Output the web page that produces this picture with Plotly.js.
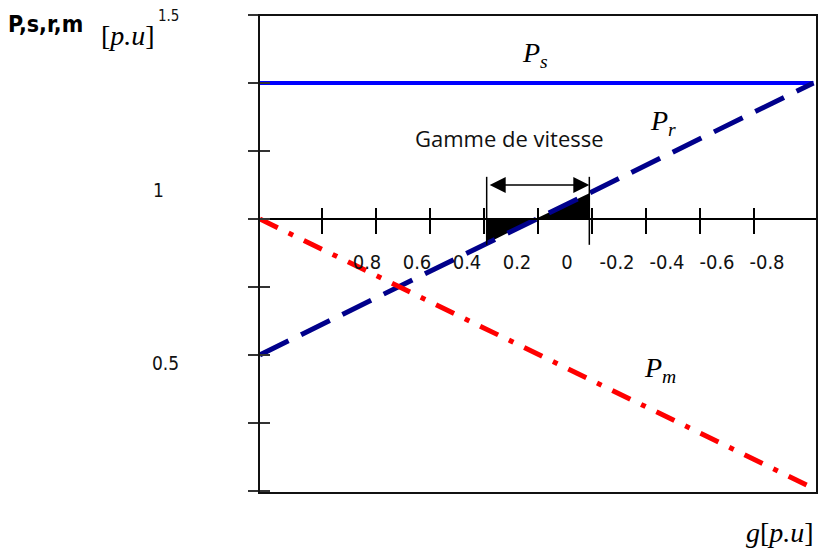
<!DOCTYPE html>
<html>
<head>
<meta charset="utf-8">
<script src="https://cdn.plot.ly/plotly-3.0.1.min.js"></script>
<style>
  html, body { margin: 0; padding: 0; background: #fff; }
  #chart { width: 821px; height: 554px; }
</style>
</head>
<body>
<div id="chart"></div>
<script>
// Slip g [p.u] at both ends of each power line
const slip = [1.03, -1.02];
// Stator, rotor and mechanical power [p.u] at those slips
const powerStator = [1, 1];
const powerRotor = [-1.0, 1.0];
const powerMech = [0, -1.98];

// Speed range: slip limits and rotor power across the band
const bandSlip = [0.19, 0.01, -0.19];
const bandRotor = [-0.18, 0, 0.19];
const bandEdges = [0.19, -0.19];

// Axis ticks and labels
const slipTicks = [0.8, 0.6, 0.4, 0.2, 0, -0.2, -0.4, -0.6, -0.8];
const slipTickText = ['0.8', '0.6', '0.4', '0.2', '0', '-0.2', '-0.4', '-0.6', '-0.8'];
const powerTicks = [-2, -1.5, -1, -0.5, 0, 0.5, 1, 1.5];
const sideLabels = ['1.5', '1', '0.5'];

const xRange = [1.033, -1.033];
const yRange = [-2.015, 1.5];
const zeroPos = (0 - yRange[0]) / (yRange[1] - yRange[0]);

const serif = 'Liberation Serif, DejaVu Serif, serif';
const narrow = 'Liberation Sans Narrow, DejaVu Sans Condensed, Arial Narrow, sans-serif';

const traces = [
  {
    x: bandSlip, y: bandRotor, mode: 'lines', fill: 'tozeroy',
    fillcolor: '#000', line: {width: 0, color: '#000'}, hoverinfo: 'skip'
  },
  {
    x: slip, y: powerStator, mode: 'lines',
    line: {color: '#0000ff', width: 4}
  },
  {
    x: slip, y: powerRotor, mode: 'lines',
    line: {color: '#00008b', width: 5, dash: '32px,14px'}
  },
  {
    x: slip, y: powerMech, mode: 'lines',
    line: {color: '#ff0000', width: 5, dash: '20px,12px,5px,12px'}
  },
  // empty traces so the overlaid tick/label axes get drawn
  {x: [], y: [], xaxis: 'x2', yaxis: 'y', mode: 'lines', hoverinfo: 'skip'},
  {x: [], y: [], xaxis: 'x3', yaxis: 'y', mode: 'lines', hoverinfo: 'skip'}
];

// Side labels on the left, placed in paper units
const sideLabelPos = [[-0.163, 0.998, 15], [-0.181, 0.634, 19], [-0.167, 0.272, 19]];

const annotations = sideLabels.map((t, i) => ({
  text: t, xref: 'paper', yref: 'paper',
  x: sideLabelPos[i][0], y: sideLabelPos[i][1],
  xanchor: 'center', yanchor: 'middle', showarrow: false,
  font: {family: narrow, size: sideLabelPos[i][2], color: '#111'}
}));

annotations.push(
  {
    text: '<b>P,s,r,m</b>', xref: 'paper', yref: 'paper', x: -0.3835, y: 0.981,
    xanchor: 'center', yanchor: 'middle', showarrow: false,
    font: {family: narrow, size: 23, color: '#000'}
  },
  {
    text: '[<i>p.u</i>]', xref: 'paper', yref: 'paper', x: -0.2348, y: 0.958,
    xanchor: 'center', yanchor: 'middle', showarrow: false,
    font: {family: serif, size: 28, color: '#000'}
  },
  {
    text: '<i>g</i>[<i>p.u</i>]', xref: 'paper', yref: 'paper', x: 0.9337, y: -0.0816,
    xanchor: 'center', yanchor: 'middle', showarrow: false,
    font: {family: serif, size: 28, color: '#000'}
  },
  {
    text: '<i>P</i><sub><i>s</i></sub>', xref: 'x', yref: 'y', x: 0.011, y: 1.206,
    xanchor: 'center', yanchor: 'middle', showarrow: false,
    font: {family: serif, size: 28, color: '#000'}
  },
  {
    text: '<i>P</i><sub><i>r</i></sub>', xref: 'x', yref: 'y', x: -0.463, y: 0.713,
    xanchor: 'center', yanchor: 'middle', showarrow: false,
    font: {family: serif, size: 28, color: '#000'}
  },
  {
    text: '<i>P</i><sub><i>m</i></sub>', xref: 'x', yref: 'y', x: -0.452, y: -1.11,
    xanchor: 'center', yanchor: 'middle', showarrow: false,
    font: {family: serif, size: 28, color: '#000'}
  },
  {
    text: 'Gamme de vitesse', xref: 'x', yref: 'y', x: 0.104, y: 0.596,
    xanchor: 'center', yanchor: 'middle', showarrow: false,
    font: {family: 'Open Sans, Noto Sans, sans-serif', size: 22, color: '#111'}
  },
  {
    // double-headed arrow spanning the speed range
    text: ' ', xref: 'x', yref: 'y', axref: 'x', ayref: 'y',
    x: bandEdges[1], y: 0.25, ax: bandEdges[0], ay: 0.25,
    showarrow: true, arrowside: 'end+start', arrowhead: 2,
    arrowsize: 2, arrowwidth: 1.6, arrowcolor: '#000', standoff: 0, startstandoff: 0
  }
);

const shapes = [
  {
    type: 'rect', xref: 'paper', yref: 'paper', x0: 0, x1: 1, y0: 0, y1: 1,
    line: {color: '#111', width: 2}, fillcolor: 'rgba(0,0,0,0)'
  }
].concat(bandEdges.map(g => ({
  type: 'line', xref: 'x', yref: 'y', x0: g, x1: g, y0: -0.19, y1: 0.31,
  line: {color: '#000', width: 1.5}
})));

const baseX = {
  range: xRange, anchor: 'free', position: zeroPos,
  showgrid: false, zeroline: false, showticklabels: false,
  tickvals: slipTicks, tickwidth: 2, tickcolor: '#000'
};

const layout = {
  width: 821, height: 554,
  margin: {l: 259, r: 4, t: 15, b: 61},
  paper_bgcolor: '#fff', plot_bgcolor: '#fff',
  showlegend: false, hovermode: false,
  xaxis: Object.assign({}, baseX, {
    showline: true, linecolor: '#000', linewidth: 2, ticks: 'inside', ticklen: 10
  }),
  xaxis3: Object.assign({}, baseX, {
    overlaying: 'x', showline: false, ticks: 'outside', ticklen: 14
  }),
  xaxis2: {
    overlaying: 'x', range: [1.232, -1.0], anchor: 'free', position: 0.512, side: 'bottom',
    showgrid: false, zeroline: false, showline: false, ticks: '',
    tickvals: slipTicks, ticktext: slipTickText,
    tickfont: {family: narrow, size: 20, color: '#111'}
  },
  // power axis sits just inside the frame so its ticks cross the left edge
  yaxis: {
    range: yRange, anchor: 'free', position: 0.0197, side: 'left',
    showgrid: false, zeroline: false, showline: false, showticklabels: false,
    tickvals: powerTicks, ticks: 'outside', ticklen: 22, tickwidth: 2, tickcolor: '#333'
  },
  annotations: annotations,
  shapes: shapes
};

Plotly.newPlot('chart', traces, layout, {displayModeBar: false, staticPlot: true});
</script>
</body>
</html>
